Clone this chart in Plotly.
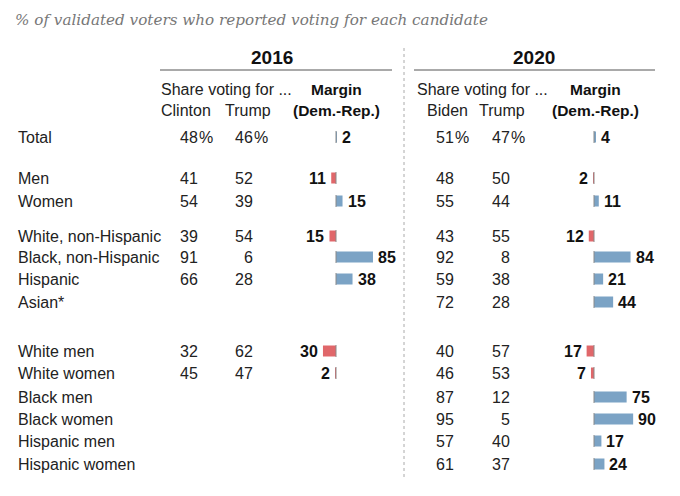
import plotly.graph_objects as go

# ---------------- data ----------------
groups = ["Total", "Men", "Women", "White, non-Hispanic", "Black, non-Hispanic",
          "Hispanic", "Asian*", "White men", "White women", "Black men",
          "Black women", "Hispanic men", "Hispanic women"]
clinton_2016 = [48, 41, 54, 39, 91, 66, None, 32, 45, None, None, None, None]
trump_2016 = [46, 52, 39, 54, 6, 28, None, 62, 47, None, None, None, None]
margin_2016 = [2, -11, 15, -15, 85, 38, None, -30, -2, None, None, None, None]
biden_2020 = [51, 48, 55, 43, 92, 59, 72, 40, 46, 87, 95, 57, 61]
trump_2020 = [47, 50, 44, 55, 8, 38, 28, 57, 53, 12, 5, 40, 37]
margin_2020 = [4, -2, 11, -12, 84, 21, 44, -17, -7, 75, 90, 17, 24]

title = "% of validated voters who reported voting for each candidate"

# ---------------- layout constants (page pixels) ----------------
W, H = 680, 496
OFF = 8                # page body margin
row_y = [137, 178, 201, 236, 257, 279, 302, 351, 373, 397, 419, 441, 464]
SCALE = 0.435          # px per margin point
BAR_W = 11
BLUE = "#7ba3c5"
RED = "#e0676a"
FONT = "Liberation Sans"
TXT = "#222222"

panels = [
    dict(key="2016", names=("Clinton", "Trump"), a=clinton_2016, b=trump_2016,
         m=margin_2016, xa=199, xb=254, cxa=186, cxb=248, zero=336,
         dom=(290, 400), head_c=272, line=(160, 392), share_x=160, marg_c=336,
         axis="x2"),
    dict(key="2020", names=("Biden", "Trump"), a=biden_2020, b=trump_2020,
         m=margin_2020, xa=455, xb=511, cxa=447, cxb=502, zero=594,
         dom=(548, 670), head_c=534, line=(414, 655), share_x=416, marg_c=595,
         axis="x3"),
]

fig = go.Figure()
ann = []
shapes = []


def add_text(x, y, text, anchor="left", size=16, bold=False, xref="x", xshift=0,
             color=TXT, family=FONT, italic=False):
    t = text
    if bold:
        t = "<b>" + t + "</b>"
    if italic:
        t = "<i>" + t + "</i>"
    ann.append(dict(x=x, y=y, xref=xref, yref="y", text=t, showarrow=False,
                    xanchor=anchor, yanchor="middle", xshift=xshift,
                    font=dict(size=size, color=color, family=family),
                    borderpad=0))


# title
add_text(14, 20, title, size=15.2, color="#777777", family="DejaVu Serif", italic=True)

# row labels
for g, y in zip(groups, row_y):
    add_text(17, y, g)

for p in panels:
    ax = p["axis"]
    # headers
    add_text(p["head_c"], 57, p["key"], anchor="center", size=19, bold=True, color="#111")
    shapes.append(dict(type="line", xref="x", yref="y", x0=p["line"][0], x1=p["line"][1],
                       y0=70, y1=70, line=dict(color="#555555", width=1)))
    add_text(p["share_x"], 89, "Share voting for ...")
    add_text(p["cxa"], 110, p["names"][0], anchor="center")
    add_text(p["cxb"], 110, p["names"][1], anchor="center")
    add_text(p["marg_c"], 89, "Margin", anchor="center", bold=True, size=15.5, color="#111")
    add_text(p["marg_c"], 110, "(Dem.-Rep.)", anchor="center", bold=True, size=15.5,
             color="#111")

    # share numbers
    for i, (va, vb, y) in enumerate(zip(p["a"], p["b"], row_y)):
        if va is None:
            continue
        add_text(p["xa"], y, str(va), anchor="right")
        add_text(p["xb"], y, str(vb), anchor="right")
        if i == 0:
            add_text(p["xa"], y, "%", anchor="left", xshift=-1)
            add_text(p["xb"], y, "%", anchor="left", xshift=-1)

    # bars
    ys = [y for y, v in zip(row_y, p["m"]) if v is not None]
    vs = [v for v in p["m"] if v is not None]
    fig.add_trace(go.Bar(
        x=vs, y=ys, orientation="h", xaxis=ax, yaxis="y", width=BAR_W,
        marker=dict(color=[BLUE if v > 0 else RED for v in vs], line=dict(width=0)),
        hoverinfo="skip", showlegend=False))
    for v, y in zip(vs, ys):
        shapes.append(dict(type="line", xref=ax, yref="y", x0=0, x1=0,
                           y0=y - BAR_W / 2 - 0.5, y1=y + BAR_W / 2 + 0.5,
                           line=dict(color="#8a8a8a", width=1)))
        if v > 0:
            add_text(v, y, str(abs(v)), anchor="left", bold=True, xref=ax,
                     xshift=4, size=16, color="#111")
        else:
            add_text(v, y, str(abs(v)), anchor="right", bold=True, xref=ax,
                     xshift=-4, size=16, color="#111")

# divider
shapes.append(dict(type="line", xref="x", yref="y", x0=404, x1=404, y0=48, y1=480,
                   line=dict(color="#aaaaaa", width=1, dash="dot")))

FW, FH = W - OFF, H - OFF


def bar_axis(p):
    d0, d1 = p["dom"]
    return dict(domain=[(d0 - OFF) / FW, (d1 - OFF) / FW],
                range=[(d0 - p["zero"]) / SCALE, (d1 - p["zero"]) / SCALE],
                visible=False, fixedrange=True, anchor="y")


fig.update_layout(
    width=FW, height=FH,
    margin=dict(l=0, r=0, t=0, b=0),
    paper_bgcolor="white", plot_bgcolor="rgba(0,0,0,0)",
    xaxis=dict(domain=[0, 1], range=[OFF, W], visible=False, fixedrange=True),
    xaxis2=bar_axis(panels[0]),
    xaxis3=bar_axis(panels[1]),
    yaxis=dict(domain=[0, 1], range=[H, OFF], visible=False, fixedrange=True),
    annotations=ann, shapes=shapes, barmode="overlay",
)
# invisible trace to activate the pixel x axis
fig.add_trace(go.Scatter(x=[OFF, W], y=[OFF, H], mode="markers", marker=dict(opacity=0),
                         hoverinfo="skip", showlegend=False, xaxis="x", yaxis="y"))

fig.write_html("out.html")
